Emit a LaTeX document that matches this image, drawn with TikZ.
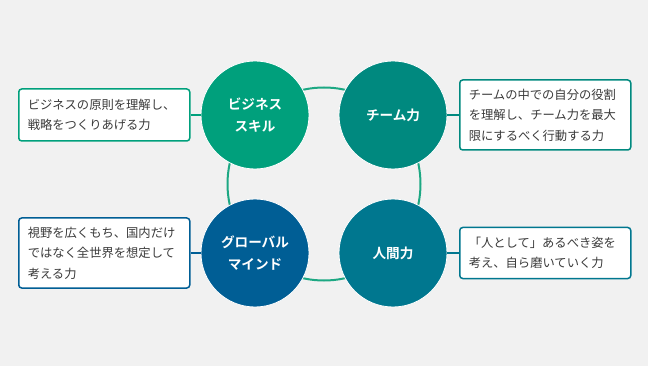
\documentclass[tikz,border=0pt]{standalone}
\usepackage{fontspec}
\setmainfont[BoldFont={Noto Sans CJK JP Bold}]{Noto Sans CJK JP}
\usetikzlibrary{positioning}

\definecolor{bggray}{HTML}{F1F1F1}
\definecolor{textgray}{HTML}{3A3A3A}
\definecolor{ringgreen}{HTML}{1DA883}
\definecolor{bizgreen}{HTML}{00A07C}
\definecolor{teamteal}{HTML}{00897F}
\definecolor{globalblue}{HTML}{005E95}
\definecolor{humanteal}{HTML}{00778F}

\begin{document}
\begin{tikzpicture}[
  x=1pt,y=-1pt,
  font=\fontsize{12.3}{20.5}\selectfont,
  ring/.style={ringgreen,line width=2pt},
  skill/.style={circle,draw=white,line width=.8pt,minimum size=108pt,inner sep=0pt,
    text=white,align=center,font=\fontsize{13.6}{22}\selectfont\bfseries},
  desc/.style={rectangle,rounded corners=3pt,fill=white,line width=1.5pt,text=textgray,
    align=left,text width=153pt,inner xsep=9pt,inner ysep=0pt},
  link/.style={line width=2pt}
]
\useasboundingbox[fill=bggray] (0,0) rectangle (648,366);
\draw[ring] (324,184) circle[radius=96.5pt];
\node[skill,fill=bizgreen] (biz) at (255,115) {ビジネス\\スキル};
\node[skill,fill=teamteal] (team) at (393,115) {チーム力};
\node[skill,fill=globalblue] (global) at (255,253) {グローバル\\マインド};
\node[skill,fill=humanteal] (human) at (393,253) {人間力};
\node[desc,draw=bizgreen,minimum height=52pt,anchor=west] (bizdesc) at (18,115)
  {ビジネスの原則を理解し、\\戦略をつくりあげる力};
\node[desc,draw=teamteal,minimum height=70pt,anchor=west] (teamdesc) at (459,115)
  {チームの中での自分の役割\\を理解し、チーム力を最大\\限にするべく行動する力};
\node[desc,draw=globalblue,minimum height=70pt,anchor=west] (globaldesc) at (18,253)
  {視野を広くもち、国内だけ\\ではなく全世界を想定して\\考える力};
\node[desc,draw=humanteal,minimum height=51pt,anchor=west] (humandesc) at (459,253)
  {「人として」あるべき姿を\\考え、自ら磨いていく力};
\draw[link,bizgreen] (bizdesc) -- (biz);
\draw[link,teamteal] (teamdesc) -- (team);
\draw[link,globalblue] (globaldesc) -- (global);
\draw[link,humanteal] (humandesc) -- (human);
\end{tikzpicture}
\end{document}
